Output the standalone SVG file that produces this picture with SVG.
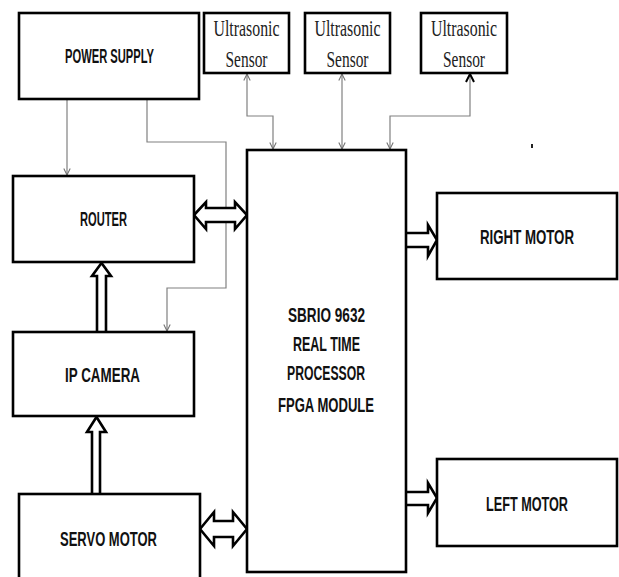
<svg xmlns="http://www.w3.org/2000/svg" width="619" height="577" viewBox="0 0 619 577">
<defs>
<style>
.box{fill:#fff;stroke:#000;stroke-width:2.6}
.lbl{font-family:"Liberation Sans",Arial,sans-serif;font-weight:bold;font-size:20px;fill:#111;text-anchor:middle}
.ser{font-family:"Liberation Serif","Times New Roman",serif;font-size:23px;fill:#222;text-anchor:middle}
.thin{fill:none;stroke:#808080;stroke-width:1.2}
.blk{fill:#fff;stroke:#000;stroke-width:2.6;stroke-linejoin:miter}
</style>
<marker id="ah" viewBox="0 0 10 10" refX="9" refY="5" markerWidth="8" markerHeight="8" markerUnits="userSpaceOnUse" orient="auto-start-reverse">
<path d="M1,1 L9,5 L1,9" fill="none" stroke="#707070" stroke-width="1.3"/>
</marker>
<marker id="ahb" viewBox="0 0 10 10" refX="9" refY="5" markerWidth="10" markerHeight="10" markerUnits="userSpaceOnUse" orient="auto-start-reverse">
<path d="M1,1 L9,5 L1,9" fill="none" stroke="#000" stroke-width="2"/>
</marker>
</defs>
<rect width="619" height="577" fill="#fff"/>
<g id="connectors">
<path class="thin" d="M67,99 V175" marker-end="url(#ah)"/>
<path class="thin" d="M147,99 V142 H226 V288 H167 V331" marker-end="url(#ah)"/>
<path class="thin" d="M247,74 V116 H273 V149" marker-start="url(#ah)" marker-end="url(#ah)"/>
<path class="thin" d="M342,74 V149" marker-start="url(#ah)" marker-end="url(#ah)"/>
<path class="thin" d="M470,74 V116 H390 V149" marker-start="url(#ahb)" marker-end="url(#ah)"/>
<path class="blk" d="M194,215 L206,202 V208 H235 V202 L247,215 L235,229 V222 H206 V229 Z"/>
<path class="blk" d="M200,529 L214,512 V521 H233 V512 L247,529 L233,546 V537 H214 V546 Z"/>
<path class="blk" d="M406,233 H428 V225 L437,240 L428,256 V247 H406"/>
<path class="blk" d="M406,492 H428 V483 L437,498 L428,513 V505 H406"/>
<path class="blk" d="M97,332 V276 H92 L101.5,263 L111,276 H106 V332"/>
<path class="blk" d="M92,494 V432 H87 L96.5,417 L106,432 H100 V494"/>
</g>
<g id="power-supply">
<rect class="box" x="19" y="13" width="180" height="86"/>
<text class="lbl" x="109.5" y="63" textLength="89" lengthAdjust="spacingAndGlyphs">POWER SUPPLY</text>
</g>
<g id="sensor-1">
<rect class="box" x="204" y="13" width="85" height="60"/>
<text class="ser" x="246.5" y="36" textLength="66" lengthAdjust="spacingAndGlyphs">Ultrasonic</text>
<text class="ser" x="246.5" y="67" textLength="42" lengthAdjust="spacingAndGlyphs">Sensor</text>
</g>
<g id="sensor-2">
<rect class="box" x="305" y="13" width="85" height="60"/>
<text class="ser" x="347.5" y="36" textLength="66" lengthAdjust="spacingAndGlyphs">Ultrasonic</text>
<text class="ser" x="347.5" y="67" textLength="42" lengthAdjust="spacingAndGlyphs">Sensor</text>
</g>
<g id="sensor-3">
<rect class="box" x="421" y="13" width="86" height="60"/>
<text class="ser" x="464" y="36" textLength="66" lengthAdjust="spacingAndGlyphs">Ultrasonic</text>
<text class="ser" x="464" y="67" textLength="42" lengthAdjust="spacingAndGlyphs">Sensor</text>
</g>
<g id="router">
<rect class="box" x="13" y="176" width="181" height="86"/>
<text class="lbl" x="103.5" y="226" textLength="47" lengthAdjust="spacingAndGlyphs">ROUTER</text>
</g>
<g id="ip-camera">
<rect class="box" x="13" y="332" width="181" height="84"/>
<text class="lbl" x="102.5" y="382" textLength="75" lengthAdjust="spacingAndGlyphs">IP CAMERA</text>
</g>
<g id="servo-motor">
<rect class="box" x="19" y="494" width="181" height="100"/>
<text class="lbl" x="108.5" y="546" textLength="97" lengthAdjust="spacingAndGlyphs">SERVO MOTOR</text>
</g>
<g id="sbrio">
<rect class="box" x="247" y="150" width="159" height="422"/>
<text class="lbl" x="326.5" y="322" textLength="77" lengthAdjust="spacingAndGlyphs">SBRIO 9632</text>
<text class="lbl" x="326.5" y="351" textLength="67" lengthAdjust="spacingAndGlyphs">REAL TIME</text>
<text class="lbl" x="326" y="380" textLength="78" lengthAdjust="spacingAndGlyphs">PROCESSOR</text>
<text class="lbl" x="326" y="412" textLength="96" lengthAdjust="spacingAndGlyphs">FPGA MODULE</text>
</g>
<g id="right-motor">
<rect class="box" x="437" y="193" width="180" height="86"/>
<text class="lbl" x="527" y="244" textLength="94" lengthAdjust="spacingAndGlyphs">RIGHT MOTOR</text>
</g>
<g id="left-motor">
<rect class="box" x="437" y="459" width="180" height="87"/>
<text class="lbl" x="527" y="511" textLength="82" lengthAdjust="spacingAndGlyphs">LEFT MOTOR</text>
</g>
<rect x="531" y="144" width="2" height="4" fill="#222"/>
</svg>
